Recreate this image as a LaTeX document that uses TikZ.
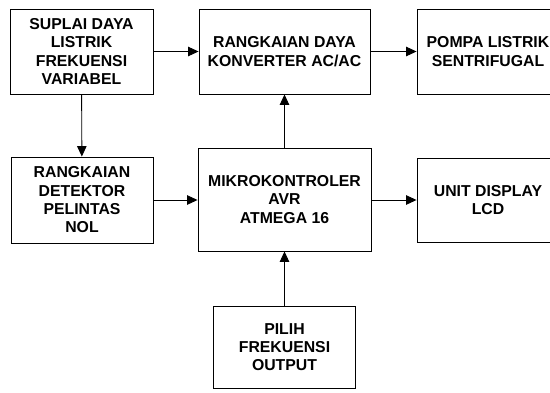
\documentclass[tikz,border=0pt]{standalone}
\usepackage{fontspec}
\setmainfont{Liberation Sans}
\usetikzlibrary{arrows.meta}
\tikzset{
  blok/.style={draw, line width=0.9pt, align=center, inner sep=0pt,
    font=\fontsize{15.8}{18.3}\selectfont\bfseries},
  panah/.style={line width=0.9pt, -{Triangle[length=10.5pt,width=9.5pt]}}
}
\begin{document}
\begin{tikzpicture}[x=1pt,y=-1pt]
\useasboundingbox (0,0) rectangle (550,392);
\fill[white] (0,0) rectangle (550,392);
\clip (0,0) rectangle (550,392);
\node[blok, minimum width=143pt, minimum height=85pt] (b1) at (81.5,51.5) {SUPLAI DAYA\\LISTRIK\\FREKUENSI\\VARIABEL};
\node[blok, minimum width=171pt, minimum height=85pt] (b2) at (284.5,51.5) {RANGKAIAN DAYA\\KONVERTER AC/AC};
\node[blok, minimum width=142pt, minimum height=85pt] (b3) at (488,51.5) {POMPA LISTRIK\\SENTRIFUGAL};
\node[blok, minimum width=142pt, minimum height=86pt] (b4) at (82,200) {RANGKAIAN\\DETEKTOR\\PELINTAS\\NOL};
\node[blok, minimum width=173pt, minimum height=103pt] (b5) at (284.5,199.5) {MIKROKONTROLER\\AVR\\ATMEGA 16};
\node[blok, minimum width=142pt, minimum height=84pt] (b6) at (488,200) {UNIT DISPLAY\\LCD};
\node[blok, minimum width=142pt, minimum height=82pt] (b7) at (284.5,347) {PILIH\\FREKUENSI\\OUTPUT};
\draw[panah] (b1) -- (b2);
\draw[panah] (b2) -- (b3);
\draw[panah] (b1) -- (b4);
\draw[panah] (b4.east) -- (b4.east -| b5.west);
\draw[panah] (b5) -- (b2);
\draw[panah] (b5.east |- b6.west) -- (b6.west);
\draw[panah] (b7) -- (b5);
\end{tikzpicture}
\end{document}
